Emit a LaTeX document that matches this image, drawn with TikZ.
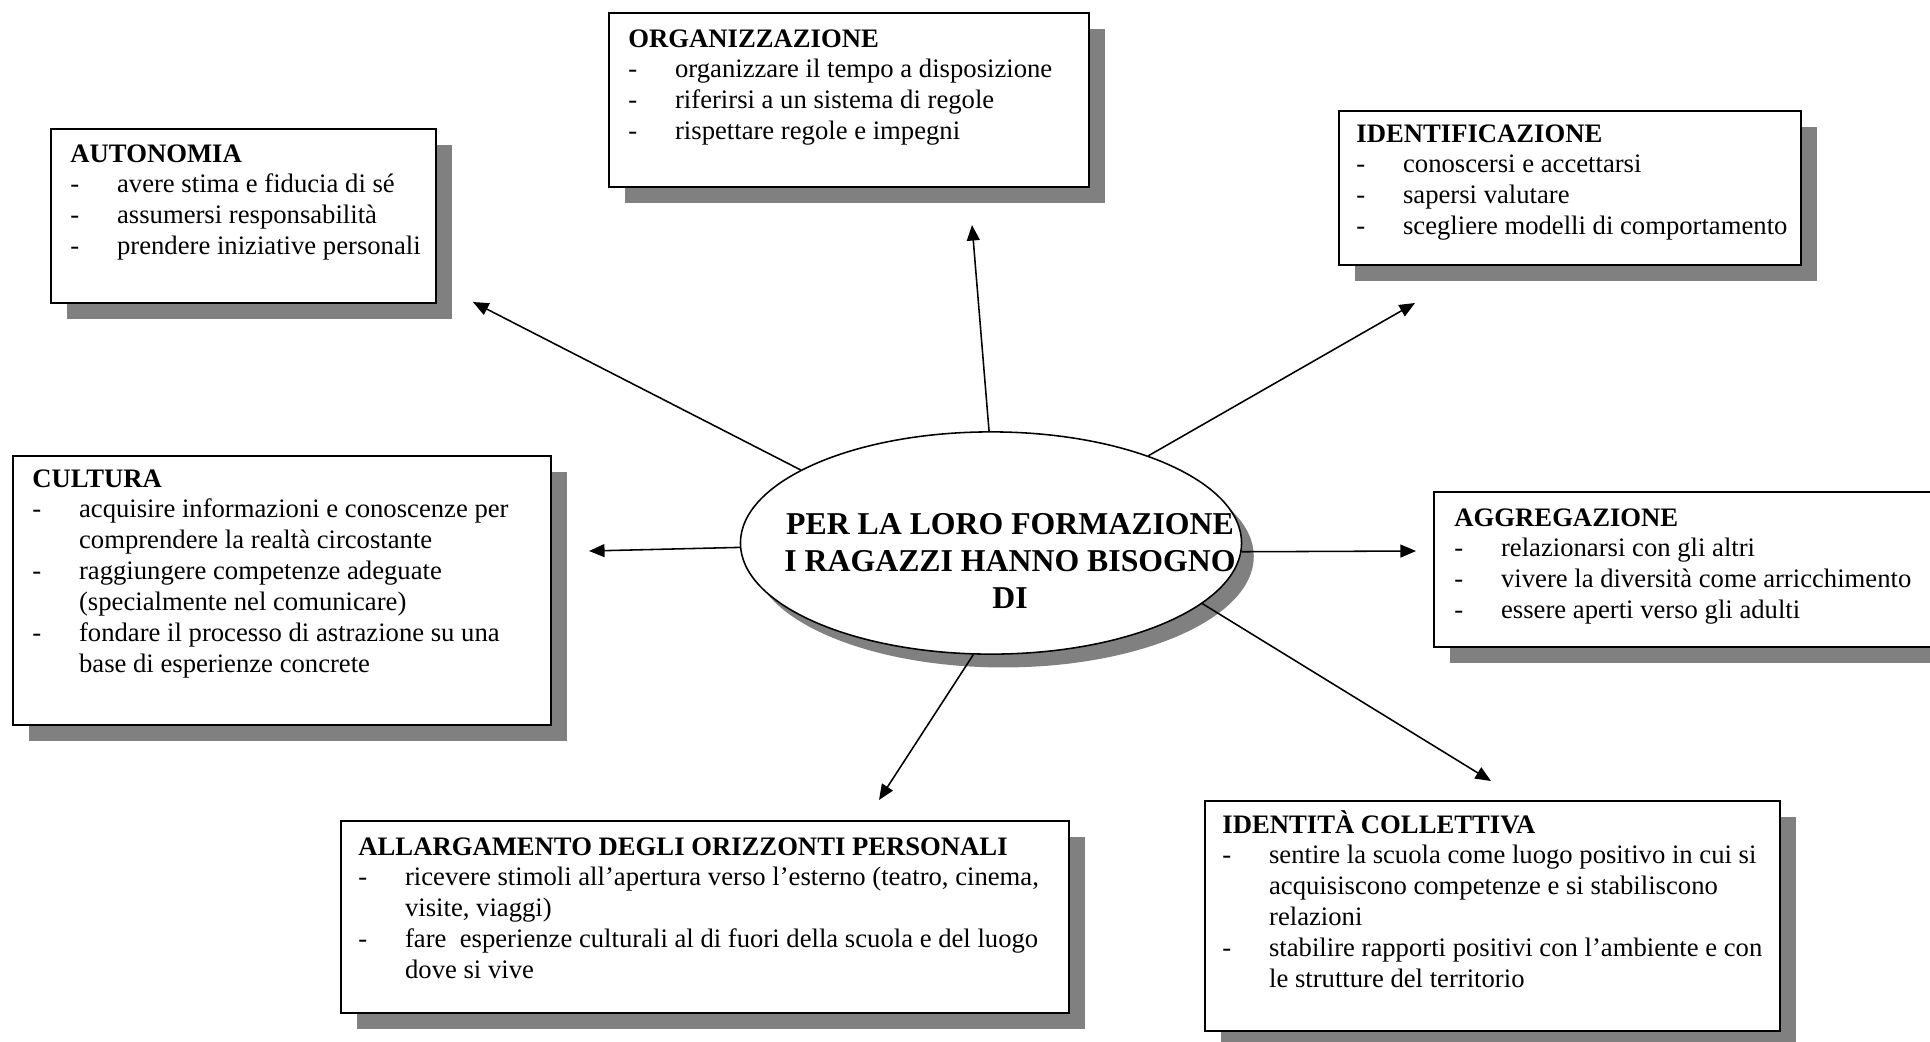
\documentclass[tikz,border=0pt]{standalone}
\usepackage{fontspec}
\setmainfont{Liberation Serif}
\usetikzlibrary{arrows.meta,shapes.geometric,shadows}
\definecolor{shgray}{HTML}{808080}
\newcommand\dashitem[1]{\makebox[21pt][l]{-}#1}
\newcommand\contline[1]{\hspace*{21pt}#1}
\newcommand\boxtext[1]{\parbox[t]{420pt}{\raggedright\fontsize{12}{13.9}\selectfont #1}}
\begin{document}
\begin{tikzpicture}[x=0.45pt,y=-0.45pt,
  boxstyle/.style={draw=black, line width=0.9pt, fill=white, anchor=north west, inner sep=0pt,
    drop shadow={shadow xshift=7.2pt,shadow yshift=-7.2pt,fill=shgray,opacity=1}},
  txt/.style={anchor=base west, inner sep=0pt},
  arr/.style={line width=0.7pt, -{Triangle[length=7pt,width=5.8pt]}}
]
\useasboundingbox (0,0) rectangle (1930,1041);
\fill[white] (0,0) rectangle (1930,1041);

% boxes
\node[boxstyle, minimum width=216pt, minimum height=78.3pt] (org) at (608,12) {};
\node[txt] (orgT) at (628,47) {\boxtext{{\bfseries ORGANIZZAZIONE}\\
  \dashitem{organizzare il tempo a disposizione}\\
  \dashitem{riferirsi a un sistema di regole}\\
  \dashitem{rispettare regole e impegni}}};

\node[boxstyle, minimum width=173.25pt, minimum height=78.3pt] (aut) at (50,128) {};
\node[txt] (autT) at (70,162) {\boxtext{{\bfseries AUTONOMIA}\\
  \dashitem{avere stima e fiducia di sé}\\
  \dashitem{assumersi responsabilità}\\
  \dashitem{prendere iniziative personali}}};

\node[boxstyle, minimum width=207.9pt, minimum height=69.3pt] (ide) at (1338,110) {};
\node[txt] (ideT) at (1356,142) {\boxtext{{\bfseries IDENTIFICAZIONE}\\
  \dashitem{conoscersi e accettarsi}\\
  \dashitem{sapersi valutare}\\
  \dashitem{scegliere modelli di comportamento}}};

\node[boxstyle, minimum width=242.1pt, minimum height=121pt] (cul) at (12,455) {};
\node[txt] (culT) at (32,487) {\boxtext{{\bfseries CULTURA}\\
  \dashitem{acquisire informazioni e conoscenze per}\\
  \contline{comprendere la realtà circostante}\\
  \dashitem{raggiungere competenze adeguate}\\
  \contline{(specialmente nel comunicare)}\\
  \dashitem{fondare il processo di astrazione su una}\\
  \contline{base di esperienze concrete}}};

\node[boxstyle, minimum width=240pt, minimum height=69.75pt] (agg) at (1433,491) {};
\node[txt] (aggT) at (1454,526) {\boxtext{{\bfseries AGGREGAZIONE}\\
  \dashitem{relazionarsi con gli altri}\\
  \dashitem{vivere la diversità come arricchimento}\\
  \dashitem{essere aperti verso gli adulti}}};

\node[boxstyle, minimum width=258.75pt, minimum height=103.5pt] (col) at (1204,800) {};
\node[txt] (colT) at (1222,833) {\boxtext{{\bfseries IDENTITÀ COLLETTIVA}\\
  \dashitem{sentire la scuola come luogo positivo in cui si}\\
  \contline{acquisiscono competenze e si stabiliscono}\\
  \contline{relazioni}\\
  \dashitem{stabilire rapporti positivi con l’ambiente e con}\\
  \contline{le strutture del territorio}}};

\node[boxstyle, minimum width=327.6pt, minimum height=86.4pt] (all) at (340,820) {};
\node[txt] (allT) at (358,855) {\boxtext{{\bfseries ALLARGAMENTO DEGLI ORIZZONTI PERSONALI}\\
  \dashitem{ricevere stimoli all’apertura verso l’esterno (teatro, cinema,}\\
  \contline{visite, viaggi)}\\
  \dashitem{fare\ \ esperienze culturali al di fuori della scuola e del luogo}\\
  \contline{dove si vive}}};

% central ellipse
\node[draw=black, line width=0.7pt, ellipse, fill=white, inner sep=0pt,
  minimum width=225.5pt, minimum height=100pt,
  drop shadow={shadow xshift=5.5pt,shadow yshift=-6pt,fill=shgray,opacity=1}] (c) at (991,543) {};
\node[anchor=base, inner sep=0pt] (cT) at (1010,534) {\parbox[t]{280pt}{\centering\fontsize{14.3}{16.65}\selectfont\bfseries
  PER LA LORO FORMAZIONE\\ I RAGAZZI HANNO BISOGNO\\ DI}};

% arrow ends
\coordinate (tA) at (473,302);
\coordinate (tO) at (972,225);
\coordinate (tI) at (1415,303);
\coordinate (tC) at (589,551);
\coordinate (tG) at (1416,551);
\coordinate (tL) at (879,800);
\coordinate (tT) at (1491,781);

\draw[arr] (c.159) -- (tA);
\draw[arr] (c.91) -- (tO);
\draw[arr] (c.29.5) -- (tI);
\draw[arr] (c.181.8) -- (tC);
\draw[arr] (c.358.2) -- (tG);
\draw[arr] (c.261) -- (tL);
\draw[arr] (c.344) -- (tT);
\end{tikzpicture}
\end{document}
